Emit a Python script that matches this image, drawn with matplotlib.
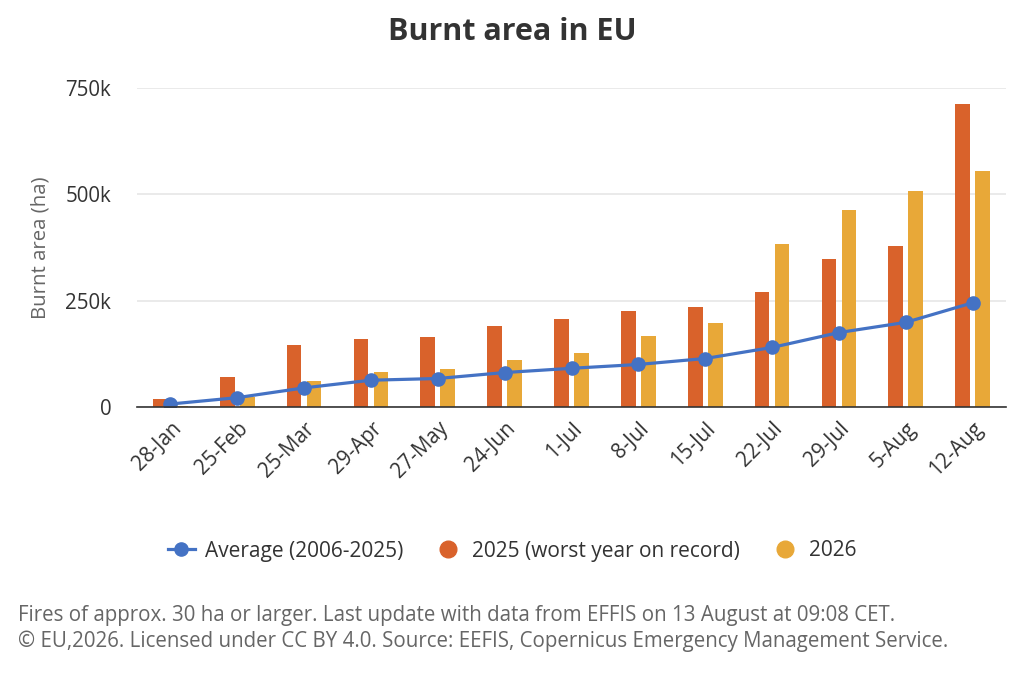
import matplotlib.pyplot as plt
from matplotlib.lines import Line2D
import numpy as np

plt.rcParams['font.family'] = ['Open Sans', 'DejaVu Sans']

weeks = ['28-Jan', '25-Feb', '25-Mar', '29-Apr', '27-May', '24-Jun', '1-Jul',
         '8-Jul', '15-Jul', '22-Jul', '29-Jul', '5-Aug', '12-Aug']
avg_2006_2025 = [7, 22, 45, 63, 67, 81, 91, 100, 114, 140, 175, 199, 245]
y2025 = [18, 70, 145, 161, 165, 190, 206, 226, 234, 270, 347, 379, 712]
y2026 = [2, 23, 61, 82, 89, 110, 126, 166, 198, 383, 463, 507, 556]

c_avg = '#4472C4'
c_2025 = '#D9622B'
c_2026 = '#E8A838'

fig = plt.figure(figsize=(10.24, 6.83), dpi=100)
ax = fig.add_axes([137 / 1024, 1 - 407 / 683, 869 / 1024, 319 / 683])

x = np.arange(len(weeks))
w = 0.22
ax.bar(x - 0.15, y2025, width=w, color=c_2025, zorder=2)
ax.bar(x + 0.15, y2026, width=w, color=c_2026, zorder=2)
ax.plot(x, avg_2006_2025, color=c_avg, lw=2.3, marker='o', ms=9.5, zorder=3)

ax.set_xlim(-0.5, len(weeks) - 0.5)
ax.set_ylim(0, 750)
ax.set_yticks([0, 250, 500, 750])
ax.set_yticklabels(['0', '250k', '500k', '750k'])
ax.set_xticks(x)
ax.set_xticklabels(weeks, rotation=45, ha='right', rotation_mode='anchor')
ax.tick_params(axis='both', length=0, labelsize=14.8, colors='#333333')
ax.tick_params(axis='y', pad=18.5)
ax.tick_params(axis='x', pad=8)
ax.grid(axis='y', color='#e6e6e6', lw=1.2, zorder=0)
for s in ['top', 'right', 'left']:
    ax.spines[s].set_visible(False)
ax.spines['bottom'].set_color('#333333')
ax.spines['bottom'].set_linewidth(1.2)
ax.spines['bottom'].set_zorder(4)
ax.set_ylabel('Burnt area (ha)', fontsize=14.7, color='#666666', labelpad=11)

fig.text(0.5, 1 - 32 / 683, 'Burnt area in EU', ha='center', va='center',
         fontsize=22, fontweight='bold', color='#333333')

handles = [
    Line2D([], [], color=c_avg, lw=2.3, marker='o', ms=9.5),
    Line2D([], [], color=c_2025, lw=0, marker='o', ms=12),
    Line2D([], [], color=c_2026, lw=0, marker='o', ms=12),
]
labels = ['Average (2006-2025)', '2025 (worst year on record)', '2026']
fig.legend(handles, labels, loc='center', bbox_to_anchor=(0.5, 1 - 551 / 683),
           ncol=3, frameon=False, fontsize=15, handlelength=1.3,
           columnspacing=1.5, handletextpad=0.5, labelcolor='#333333')

fig.text(18 / 1024, 1 - 616 / 683,
         'Fires of approx. 30 ha or larger. Last update with data from EFFIS on 13 August at 09:08 CET.',
         fontsize=14.8, color='#666666', va='center')
fig.text(18 / 1024, 1 - 641 / 683,
         '\u00a9 EU,2026. Licensed under CC BY 4.0. Source: EEFIS, Copernicus Emergency Management Service.',
         fontsize=14.8, color='#666666', va='center')

fig.savefig('out.png', dpi=100)
